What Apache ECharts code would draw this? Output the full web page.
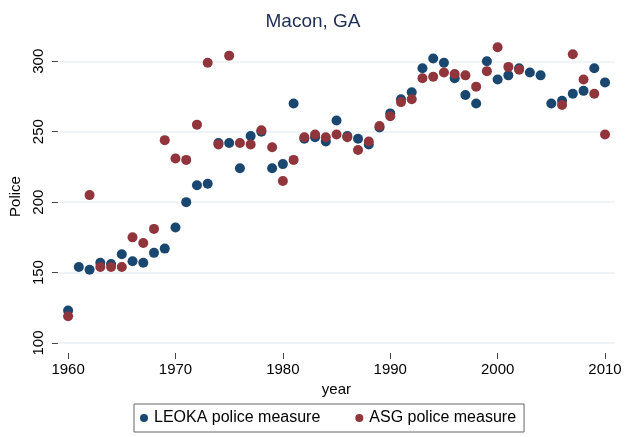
<!DOCTYPE html>
<html>
<head>
<meta charset="utf-8">
<script src="https://cdn.jsdelivr.net/npm/echarts@6/dist/echarts.min.js"></script>
<style>html,body{margin:0;padding:0;background:#fff}#c{width:626px;height:437px}</style>
</head>
<body>
<div id="c"></div>
<script>
var years = [];
for (var y = 1960; y <= 2010; y++) years.push(y);
var leoka = [123,154,152,157,156,163,158,157,164,167,182,200,212,213,242,242,224,247,250,224,227,270,245,246,243,258,247,245,241,253,263,273,278,295,302,299,288,276,270,300,287,290,295,292,290,270,272,277,279,295,285];
var asg = [119,null,205,154,154,154,175,171,181,244,231,230,255,299,241,304,242,241,251,239,215,230,246,248,246,248,246,237,243,254,261,271,273,288,289,292,291,290,282,293,310,296,294,null,null,null,269,305,287,277,248];
var yTicks = [100,150,200,250,300];
var xTicks = [1960,1970,1980,1990,2000,2010];
var seriesNames = ['LEOKA police measure','ASG police measure'];

function pairs(vals){
  var out = [];
  for (var i = 0; i < years.length; i++) if (vals[i] != null) out.push([years[i], vals[i]]);
  return out;
}

var chart = echarts.init(document.getElementById('c'), null, {renderer:'canvas'});
var font = 'Liberation Sans, Arial, sans-serif';
chart.setOption({
  animation:false,
  backgroundColor:'#fff',
  title:{text:'Macon, GA', left:'center', top:7,
    textStyle:{fontFamily:font, fontSize:19, fontWeight:'normal', color:'#1e2d53'}},
  grid:{left:55, right:11, top:40, bottom:84},
  xAxis:{type:'value', min:1959.05, max:2010.93,
    name:'year', nameLocation:'middle', nameGap:28,
    nameTextStyle:{fontFamily:font, fontSize:15, color:'#000'},
    axisLine:{show:false},
    axisTick:{show:true, inside:false, length:6, customValues:xTicks, lineStyle:{color:'#444'}},
    axisLabel:{customValues:xTicks, margin:9, fontFamily:font, fontSize:15, color:'#000',
      formatter:function(v){return String(Math.round(v));}},
    splitLine:{show:false}},
  yAxis:{type:'value', min:92.9, max:315.1,
    name:'Police', nameLocation:'middle', nameGap:33, nameRotate:90,
    nameTextStyle:{fontFamily:font, fontSize:15, color:'#000'},
    axisLine:{show:false},
    axisTick:{show:true, inside:false, length:6, customValues:yTicks, lineStyle:{color:'#444'}},
    axisLabel:{customValues:yTicks, rotate:90, margin:12, fontFamily:font, fontSize:15, color:'#000',
      formatter:function(v){return String(Math.round(v));}},
    splitLine:{show:true, lineStyle:{color:'#eaf2f3', width:1.5}}},
  legend:{data:seriesNames, left:134, top:404, orient:'horizontal',
    borderColor:'#666', borderWidth:1, borderRadius:0, padding:[6,8,6,6],
    itemGap:35, itemWidth:10, itemHeight:8, icon:'circle',
    textStyle:{fontFamily:font, fontSize:16, color:'#000'}},
  series:[
    {name:seriesNames[0], type:'scatter', data:pairs(leoka), symbolSize:10, clip:false,
      itemStyle:{color:'#1a476f', opacity:1}},
    {name:seriesNames[1], type:'scatter', data:pairs(asg), symbolSize:10, clip:false,
      itemStyle:{color:'#90353b', opacity:1}}
  ]
});
</script>
</body>
</html>
